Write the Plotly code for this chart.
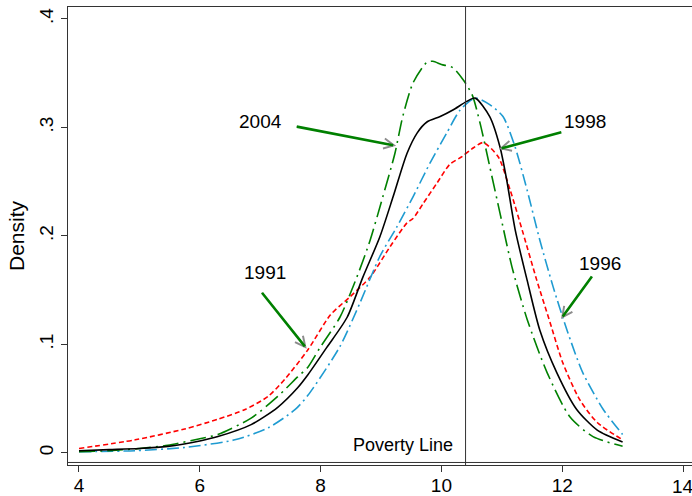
import plotly.graph_objects as go

# ---------------- data ----------------
x1991 = [4.0, 4.93, 5.75, 6.30, 6.75, 7.13, 7.41, 7.79, 8.16, 8.49, 8.82, 9.15, 9.43, 9.53,
         9.70, 9.93, 10.14, 10.34, 10.5, 10.69, 10.94, 11.14, 11.35, 11.58, 11.80, 12.01,
         12.29, 12.58, 13.0]
y1991 = [0.004, 0.012, 0.022, 0.031, 0.040, 0.052, 0.068, 0.095, 0.127, 0.144, 0.162, 0.19,
         0.212, 0.216, 0.23, 0.249, 0.266, 0.273, 0.28, 0.286, 0.273, 0.242, 0.203, 0.159,
         0.12, 0.083, 0.049, 0.028, 0.012]

x1996 = [4.0, 4.93, 5.75, 6.58, 7.13, 7.58, 7.79, 8.32, 8.65, 8.98, 9.26, 9.53, 9.81, 10.09,
         10.31, 10.56, 10.80, 11.02, 11.22, 11.42, 11.63, 11.85, 12.08, 12.34, 12.68, 13.0]
y1996 = [0.001, 0.002, 0.005, 0.012, 0.023, 0.04, 0.053, 0.098, 0.138, 0.181, 0.208, 0.236,
         0.267, 0.295, 0.316, 0.327, 0.321, 0.31, 0.282, 0.242, 0.196, 0.153, 0.113, 0.074,
         0.04, 0.017]

x1998 = [4.0, 4.5, 5.0, 5.47, 6.0, 6.30, 6.85, 7.29, 7.62, 7.79, 8.10, 8.44, 8.70, 8.98, 9.20,
         9.43, 9.60, 9.76, 9.98, 10.19, 10.42, 10.56, 10.80, 10.97, 11.08, 11.22, 11.42, 11.63,
         11.91, 12.24, 12.58, 13.0]
y1998 = [0.002, 0.003, 0.004, 0.006, 0.011, 0.015, 0.026, 0.042, 0.060, 0.072, 0.097, 0.125,
         0.162, 0.199, 0.236, 0.276, 0.295, 0.305, 0.31, 0.316, 0.324, 0.327, 0.31, 0.282,
         0.252, 0.206, 0.159, 0.113, 0.074, 0.04, 0.021, 0.010]

x2004 = [4.0, 4.5, 5.0, 5.47, 6.0, 6.30, 6.85, 7.29, 7.62, 7.79, 7.99, 8.32, 8.60, 8.82, 9.03,
         9.23, 9.36, 9.53, 9.76, 9.86, 10.0, 10.19, 10.36, 10.51, 10.64, 10.80, 10.97, 11.17,
         11.42, 11.75, 12.13, 12.51, 13.0]
y2004 = [0.001, 0.002, 0.004, 0.007, 0.013, 0.017, 0.032, 0.052, 0.07, 0.079, 0.097, 0.125,
         0.162, 0.196, 0.236, 0.276, 0.31, 0.341, 0.36, 0.361, 0.358, 0.355, 0.344, 0.330,
         0.304, 0.264, 0.221, 0.171, 0.123, 0.074, 0.033, 0.015, 0.006]

poverty_line = 10.4
x_ticks = [4, 6, 8, 10, 12, 14]
y_ticks = [0, 0.1, 0.2, 0.3, 0.4]
y_tick_labels = ["0", ".1", ".2", ".3", ".4"]

# label text position, arrow tail, arrow tip (data units)
labels = ["2004", "1998", "1991", "1996"]
label_x = [7.0, 12.38, 7.08, 12.63]
label_y = [0.305, 0.305, 0.166, 0.175]
tail_x = [7.58, 12.01, 7.01, 12.51]
tail_y = [0.301, 0.296, 0.149, 0.164]
tip_x = [9.25, 10.95, 7.77, 11.98]
tip_y = [0.283, 0.280, 0.096, 0.1235]

FONT = "Arial, Liberation Sans, sans-serif"

fig = go.Figure()
series = [
    (x1991, y1991, "1991", dict(color="#ff0000", width=1.6, dash="5px,3px")),
    (x1996, y1996, "1996", dict(color="#1f9bd1", width=1.6, dash="12px,4px,2px,4px")),
    (x2004, y2004, "2004", dict(color="#008000", width=1.6, dash="16px,5px,2px,5px")),
    (x1998, y1998, "1998", dict(color="#000000", width=1.6)),
]
for xs, ys, name, ln in series:
    fig.add_trace(go.Scatter(x=xs, y=ys, mode="lines", name=name,
                             line=dict(shape="spline", smoothing=0.7, **ln),
                             showlegend=False, hoverinfo="skip"))

annotations = []
for i, t in enumerate(labels):
    annotations.append(dict(x=label_x[i], y=label_y[i], xref="x", yref="y", text=t,
                            showarrow=False, font=dict(family=FONT, size=19, color="black")))
    annotations.append(dict(x=tip_x[i], y=tip_y[i], xref="x", yref="y", text="",
                            showarrow=True, ax=tail_x[i], ay=tail_y[i], axref="x", ayref="y",
                            arrowhead=5, arrowsize=2.0, arrowwidth=1, arrowcolor="#8c8c8c"))
    annotations.append(dict(x=tip_x[i], y=tip_y[i], xref="x", yref="y", text="",
                            showarrow=True, ax=tail_x[i], ay=tail_y[i], axref="x", ayref="y",
                            arrowhead=0, arrowwidth=2.6, arrowcolor="#008000", standoff=3))
annotations.append(dict(x=poverty_line, y=0.0, xref="x", yref="y", text="Poverty Line",
                        showarrow=False, xanchor="right", yanchor="bottom", xshift=-11, yshift=-4,
                        font=dict(family=FONT, size=18, color="black")))
# last tick label, clipped by the right edge as in the reference
annotations.append(dict(x=x_ticks[-1], y=0, xref="x", yref="y domain", text=str(x_ticks[-1]),
                        showarrow=False, xanchor="center", yanchor="top", yshift=-9,
                        font=dict(family=FONT, size=19, color="black")))

fig.add_shape(type="line", xref="x", yref="y domain", x0=poverty_line, x1=poverty_line,
              y0=0, y1=1, line=dict(color="#333333", width=1))
fig.add_shape(type="line", xref="x domain", yref="y domain", x0=0, x1=1, y0=0.0055, y1=0.0055,
              line=dict(color="#333333", width=1))

fig.update_layout(
    width=692, height=496, autosize=False,
    margin=dict(l=68, r=0, t=7, b=31),
    paper_bgcolor="white", plot_bgcolor="white",
    annotations=annotations,
    font=dict(family=FONT, size=19, color="black"),
)
fig.update_xaxes(range=[3.818, 14.149], tickvals=x_ticks, ticks="outside", ticklen=6,
                 tickcolor="#333333", showline=True, linecolor="#333333", linewidth=1,
                 mirror=True, showgrid=False, zeroline=False, automargin=False,
                 ticklabelstandoff=-3,
                 tickfont=dict(family=FONT, size=19, color="black"))
fig.update_yaxes(range=[-0.0112, 0.411], tickvals=y_ticks, ticktext=y_tick_labels,
                 ticks="outside", ticklen=6, tickcolor="#333333", tickangle=-90,
                 showline=True, linecolor="#333333", linewidth=1, showgrid=False,
                 zeroline=False, automargin=False, tickfont=dict(family=FONT, size=19, color="black"),
                 title=dict(text="Density", font=dict(family=FONT, size=21, color="black"),
                            standoff=6))

fig.write_html("out.html", config={"displayModeBar": False},
               post_script="document.body.style.margin='0px';document.body.style.padding='0px';document.body.style.overflow='hidden';")
